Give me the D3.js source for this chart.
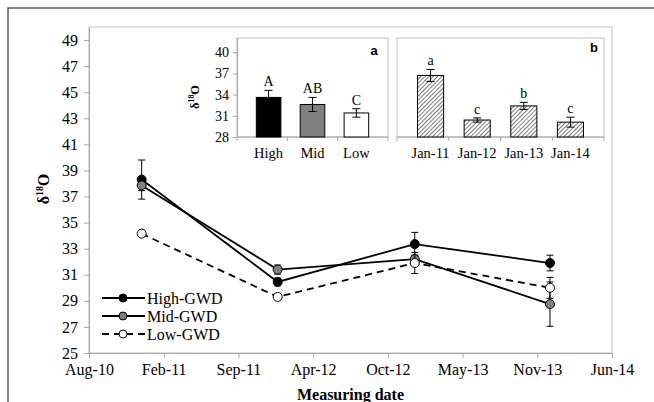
<!DOCTYPE html>
<html>
<head>
<meta charset="utf-8">
<script src="https://cdn.jsdelivr.net/npm/d3@7/dist/d3.min.js"></script>
<style>
  body { margin: 0; background: #fff; }
  text { font-family: "Liberation Serif", "Times New Roman", serif; fill: #000; }
  .axis path, .axis line { stroke: #a6a6a6; }
  .axis text { font-family: "Liberation Serif", serif; fill: #000; }
</style>
</head>
<body>
<svg class="chart" width="654" height="402"></svg>
<script>
// main chart data
var dates = ["2010-12-29", "2011-12-28", "2012-12-29", "2013-12-26"];
var highVals = [38.3, 30.45, 33.35, 31.9];
var highErr = [1.5, 0.3, 0.9, 0.6];
var midVals = [37.85, 31.4, 32.2, 28.75];
var midErr = [0.4, 0.35, 0.3, 1.7];
var lowVals = [34.15, 29.3, 31.9, 30.0];
var lowErr = [0.2, 0.2, 0.8, 0.8];
var seriesNames = ["High-GWD", "Mid-GWD", "Low-GWD"];
var xTickDates = ["2010-08-10", "2011-02-26", "2011-09-14", "2012-04-01", "2012-10-18", "2013-05-06", "2013-11-22", "2014-06-10"];
var xTickLabels = ["Aug-10", "Feb-11", "Sep-11", "Apr-12", "Oct-12", "May-13", "Nov-13", "Jun-14"];
var yTicks = [25, 27, 29, 31, 33, 35, 37, 39, 41, 43, 45, 47, 49];

// inset a
var groupNames = ["High", "Mid", "Low"];
var groupVals = [33.6, 32.6, 31.4];
var groupErr = [1.0, 1.0, 0.6];
var groupLetters = ["A", "AB", "C"];
// inset b
var yearNames = ["Jan-11", "Jan-12", "Jan-13", "Jan-14"];
var yearVals = [36.7, 30.4, 32.4, 30.1];
var yearErr = [0.85, 0.3, 0.5, 0.7];
var yearLetters = ["a", "c", "b", "c"];
var insetTicks = [28, 31, 34, 37, 40];

var svg = d3.select(".chart");

// hatch for inset b bars
var defs = svg.append("defs");
var pat = defs.append("pattern")
    .attr("id", "hatch")
    .attr("patternUnits", "userSpaceOnUse")
    .attr("width", 3).attr("height", 3)
    .attr("patternTransform", "rotate(45)");
pat.append("rect").attr("width", 3).attr("height", 3).attr("fill", "#fff");
pat.append("line").attr("x1", 0).attr("y1", 0).attr("x2", 0).attr("y2", 3)
    .attr("stroke", "#444").attr("stroke-width", 1.4);

// outer frame
svg.append("path")
    .attr("d", "M8,402V8H654")
    .attr("fill", "none")
    .attr("stroke", "#595959")
    .attr("stroke-width", 1.5);

var margin = {top: 27, right: 42, bottom: 49, left: 89},
    width = 654 - margin.left - margin.right,
    height = 402 - margin.top - margin.bottom;

var parse = d3.utcParse("%Y-%m-%d");
var x = d3.scaleUtc()
    .domain([parse(xTickDates[0]), parse(xTickDates[xTickDates.length - 1])])
    .range([0, width]);
var y = d3.scaleLinear().domain([25, 50]).range([height, 0]);

var g = svg.append("g")
    .attr("transform", "translate(" + margin.left + "," + margin.top + ")");

g.append("rect")
    .attr("width", width).attr("height", height)
    .attr("fill", "none").attr("stroke", "#bfbfbf");

g.append("g")
    .attr("class", "axis")
    .attr("transform", "translate(0," + height + ")")
    .call(d3.axisBottom(x)
        .tickValues(xTickDates.map(parse))
        .tickFormat(function(d, i) { return xTickLabels[i]; })
        .tickSizeInner(5).tickSizeOuter(0).tickPadding(6))
    .selectAll("text").style("font-size", "16px");

g.append("g")
    .attr("class", "axis")
    .call(d3.axisLeft(y)
        .tickValues(yTicks)
        .tickSizeInner(5).tickSizeOuter(0).tickPadding(6))
    .selectAll("text").style("font-size", "16px");

var series = [
  {name: seriesNames[0], vals: highVals, err: highErr, fill: "#000", dash: null},
  {name: seriesNames[1], vals: midVals, err: midErr, fill: "#808080", dash: null},
  {name: seriesNames[2], vals: lowVals, err: lowErr, fill: "#fff", dash: "7,5"}
];

var line = d3.line()
    .x(function(d) { return x(d.date); })
    .y(function(d) { return y(d.v); });

series.forEach(function(s) {
  var pts = dates.map(function(dt, i) { return {date: parse(dt), v: s.vals[i], e: s.err[i]}; });
  var sg = g.append("g");
  // error bars
  pts.forEach(function(p) {
    var px = x(p.date);
    sg.append("line").attr("x1", px).attr("x2", px)
        .attr("y1", y(p.v + p.e)).attr("y2", y(p.v - p.e))
        .attr("stroke", "#000").attr("stroke-width", 1);
    [p.v + p.e, p.v - p.e].forEach(function(v) {
      sg.append("line").attr("x1", px - 3.5).attr("x2", px + 3.5)
          .attr("y1", y(v)).attr("y2", y(v))
          .attr("stroke", "#000").attr("stroke-width", 1);
    });
  });
  sg.append("path")
      .datum(pts)
      .attr("d", line)
      .attr("fill", "none")
      .attr("stroke", "#000")
      .attr("stroke-width", 1.8)
      .attr("stroke-dasharray", s.dash);
  sg.selectAll("circle")
      .data(pts)
    .enter().append("circle")
      .attr("cx", function(d) { return x(d.date); })
      .attr("cy", function(d) { return y(d.v); })
      .attr("r", 4.5)
      .attr("fill", s.fill)
      .attr("stroke", "#000")
      .attr("stroke-width", 1);
});

// legend
var leg = svg.append("g").attr("transform", "translate(102,298)");
series.forEach(function(s, i) {
  var row = leg.append("g").attr("transform", "translate(0," + (i * 18) + ")");
  row.append("line").attr("x1", 0).attr("x2", 43).attr("y1", 0).attr("y2", 0)
      .attr("stroke", "#000").attr("stroke-width", 1.8)
      .attr("stroke-dasharray", s.dash);
  row.append("circle").attr("cx", 21).attr("cy", 0).attr("r", 4)
      .attr("fill", s.fill).attr("stroke", "#000");
  row.append("text").attr("x", 45).attr("y", 5.5)
      .style("font-size", "16px").text(s.name);
});

// axis titles
svg.append("text")
    .attr("x", margin.left + width / 2)
    .attr("y", 400)
    .style("text-anchor", "middle")
    .style("font-size", "16px")
    .style("font-weight", "bold")
    .text("Measuring date");

function deltaLabel(sel, px, py, size) {
  var t = sel.append("text")
      .attr("transform", "translate(" + px + "," + py + ") rotate(-90)")
      .style("text-anchor", "middle")
      .style("font-size", size + "px")
      .style("font-weight", "bold");
  t.append("tspan").text("δ");
  t.append("tspan").attr("dy", -size * 0.38).style("font-size", (size * 0.62) + "px").text("18");
  t.append("tspan").attr("dy", size * 0.38).text("O");
}
deltaLabel(svg, 49, 189, 16);

// insets
var yi = d3.scaleLinear().domain([28, 42]).range([137, 38]);

function inset(left, right, names, vals, errs, letters, fill, tag, tagX, tagY, showY) {
  var xi = d3.scaleBand().domain(names).range([left, right]).padding(0.44);
  var ig = svg.append("g");
  ig.append("rect")
      .attr("x", left).attr("y", yi.range()[1])
      .attr("width", right - left).attr("height", yi.range()[0] - yi.range()[1])
      .attr("fill", "#fff").attr("stroke", "#bfbfbf");
  if (showY) {
    ig.append("g")
        .attr("class", "axis")
        .attr("transform", "translate(" + left + ",0)")
        .call(d3.axisLeft(yi).tickValues(insetTicks).tickSizeInner(4).tickSizeOuter(0).tickPadding(4))
        .selectAll("text").style("font-size", "14px");
  }
  // x axis line with boundary ticks
  var step = (right - left) / names.length;
  var xa = ig.append("g").attr("class", "axis");
  xa.append("line").attr("x1", left).attr("x2", right).attr("y1", 137).attr("y2", 137);
  d3.range(names.length + 1).forEach(function(k) {
    xa.append("line").attr("x1", left + k * step).attr("x2", left + k * step)
        .attr("y1", 137).attr("y2", 141);
  });
  names.forEach(function(n) {
    ig.append("text")
        .attr("x", xi(n) + xi.bandwidth() / 2).attr("y", 158)
        .style("text-anchor", "middle").style("font-size", "14.5px")
        .text(n);
  });
  ig.selectAll(".bar")
      .data(vals)
    .enter().append("rect")
      .attr("x", function(d, i) { return xi(names[i]); })
      .attr("y", function(d) { return yi(d); })
      .attr("width", xi.bandwidth())
      .attr("height", function(d) { return 137 - yi(d); })
      .attr("fill", function(d, i) { return fill[i]; })
      .attr("stroke", "#000").attr("stroke-width", 1);
  vals.forEach(function(v, i) {
    var cx = xi(names[i]) + xi.bandwidth() / 2;
    ig.append("line").attr("x1", cx).attr("x2", cx)
        .attr("y1", yi(v + errs[i])).attr("y2", yi(v - errs[i]))
        .attr("stroke", "#000");
    [v + errs[i], v - errs[i]].forEach(function(w) {
      ig.append("line").attr("x1", cx - 4).attr("x2", cx + 4)
          .attr("y1", yi(w)).attr("y2", yi(w)).attr("stroke", "#000");
    });
    ig.append("text")
        .attr("x", cx).attr("y", yi(v + errs[i]) - 4)
        .style("text-anchor", "middle").style("font-size", "14px")
        .text(letters[i]);
  });
  ig.append("text")
      .attr("x", tagX).attr("y", tagY)
      .style("font-family", "'Liberation Sans', Arial, sans-serif")
      .style("font-weight", "bold").style("font-size", "13px")
      .style("text-anchor", "middle")
      .text(tag);
}

inset(237, 388, groupNames, groupVals, groupErr, groupLetters, ["#000", "#808080", "#fff"], "a", 374, 55, true);
inset(397, 604, yearNames, yearVals, yearErr, yearLetters, ["url(#hatch)", "url(#hatch)", "url(#hatch)", "url(#hatch)"], "b", 594, 52, false);
deltaLabel(svg, 199, 97, 12.5);
</script>
</body>
</html>
